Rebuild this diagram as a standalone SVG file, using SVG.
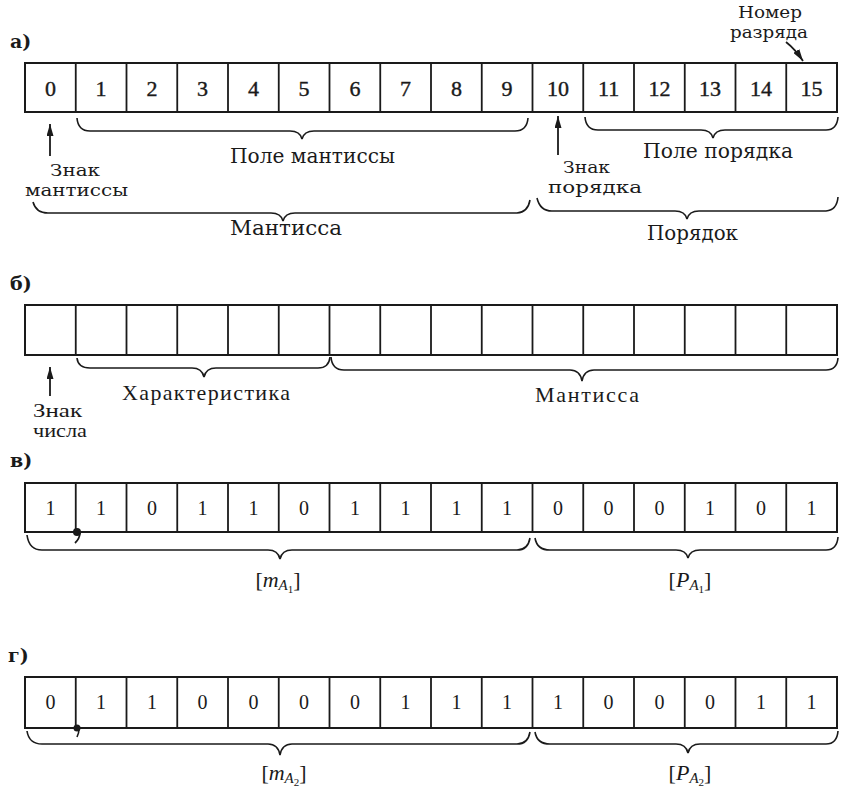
<svg xmlns="http://www.w3.org/2000/svg" width="841" height="791" viewBox="0 0 841 791">
<defs>
<style>
.cell{fill:none;stroke:#1a1a1a;stroke-width:2}
.div{stroke:#1a1a1a;stroke-width:1.8}
.br{fill:none;stroke:#1a1a1a;stroke-width:1.6;stroke-linejoin:miter}
.ar{fill:none;stroke:#1a1a1a;stroke-width:1.8}
.lb{font-family:"DejaVu Serif","Liberation Serif",serif;fill:#1a1a1a}
.lt{font-family:"Liberation Serif","DejaVu Serif",serif;fill:#1a1a1a}
.dg{font-family:"Liberation Serif","DejaVu Serif",serif;fill:#1a1a1a;text-anchor:middle}
.hd{font-family:"DejaVu Serif","Liberation Serif",serif;font-weight:bold;font-size:19px;fill:#1a1a1a}
</style>
<marker id="ah" viewBox="0 0 12 7" refX="12" refY="3.5" markerWidth="12" markerHeight="7" markerUnits="userSpaceOnUse" orient="auto">
<path d="M0,0 L12,3.5 L0,7 z" fill="#1a1a1a"/>
</marker>
</defs>

<rect width="841" height="791" fill="#ffffff"/>

<!-- Row labels -->
<g id="labels">
<text class="hd" x="10" y="48">а)</text>
<text class="hd" x="10" y="290">б)</text>
<text class="hd" x="10" y="467">в)</text>
<text class="hd" x="8" y="662">г)</text>
</g>

<!-- Register a -->
<g id="register-a">
<rect class="cell" x="25" y="63" width="812" height="49"/>
<path class="div" d="M75.75,63V112M126.5,63V112M177.25,63V112M228,63V112M278.75,63V112M329.5,63V112M380.25,63V112M431,63V112M481.75,63V112M532.5,63V112M583.25,63V112M634,63V112M684.75,63V112M735.5,63V112M786.25,63V112"/>
<g class="dg" font-size="22" stroke="#1a1a1a" stroke-width="0.4">
<text x="50.4" y="96">0</text><text x="101.1" y="96">1</text><text x="151.9" y="96">2</text><text x="202.6" y="96">3</text>
<text x="253.4" y="96">4</text><text x="304.1" y="96">5</text><text x="354.9" y="96">6</text><text x="405.6" y="96">7</text>
<text x="456.4" y="96">8</text><text x="507.1" y="96">9</text><text x="557.9" y="96">10</text><text x="608.6" y="96">11</text>
<text x="659.4" y="96">12</text><text x="710.1" y="96">13</text><text x="760.9" y="96">14</text><text x="811.6" y="96">15</text>
</g>
</g>

<g id="labels-a" class="lb">
<text x="738" y="18" font-size="16" textLength="64" lengthAdjust="spacingAndGlyphs">Номер</text>
<text x="730" y="38" font-size="16" textLength="78" lengthAdjust="spacingAndGlyphs">разряда</text>
<text x="230" y="163" font-size="20" textLength="165" lengthAdjust="spacingAndGlyphs">Поле мантиссы</text>
<text x="643" y="158" font-size="20" textLength="150" lengthAdjust="spacingAndGlyphs">Поле порядка</text>
<text x="50" y="176" font-size="16" textLength="50" lengthAdjust="spacingAndGlyphs">Знак</text>
<text x="25" y="196" font-size="16" textLength="103" lengthAdjust="spacingAndGlyphs">мантиссы</text>
<text x="563" y="173" font-size="16" textLength="47" lengthAdjust="spacingAndGlyphs">Знак</text>
<text x="548" y="193" font-size="16" textLength="94" lengthAdjust="spacingAndGlyphs">порядка</text>
<text x="230" y="235" font-size="20" textLength="112" lengthAdjust="spacingAndGlyphs">Мантисса</text>
<text x="647" y="240" font-size="20" textLength="91" lengthAdjust="spacingAndGlyphs">Порядок</text>
</g>

<!-- Register b -->
<g id="register-b">
<rect class="cell" x="25" y="305" width="812" height="50"/>
<path class="div" d="M75.75,305V355M126.5,305V355M177.25,305V355M228,305V355M278.75,305V355M329.5,305V355M380.25,305V355M431,305V355M481.75,305V355M532.5,305V355M583.25,305V355M634,305V355M684.75,305V355M735.5,305V355M786.25,305V355"/>
</g>
<g id="labels-b" class="lt">
<text x="122" y="400" font-size="22" textLength="168" lengthAdjust="spacing">Характеристика</text>
<text x="535" y="402" font-size="22" textLength="104" lengthAdjust="spacing">Мантисса</text>
<text x="33" y="417" font-size="19" textLength="49" lengthAdjust="spacingAndGlyphs">Знак</text>
<text x="33" y="437" font-size="19" textLength="54" lengthAdjust="spacingAndGlyphs">числа</text>
</g>

<!-- Register v -->
<g id="register-v">
<rect class="cell" x="25" y="483" width="812" height="49"/>
<path class="div" d="M75.75,483V532M126.5,483V532M177.25,483V532M228,483V532M278.75,483V532M329.5,483V532M380.25,483V532M431,483V532M481.75,483V532M532.5,483V532M583.25,483V532M634,483V532M684.75,483V532M735.5,483V532M786.25,483V532"/>
<g class="dg" font-size="20">
<text x="50.4" y="515">1</text><text x="101.1" y="515">1</text><text x="151.9" y="515">0</text><text x="202.6" y="515">1</text>
<text x="253.4" y="515">1</text><text x="304.1" y="515">0</text><text x="354.9" y="515">1</text><text x="405.6" y="515">1</text>
<text x="456.4" y="515">1</text><text x="507.1" y="515">1</text><text x="557.9" y="515">0</text><text x="608.6" y="515">0</text>
<text x="659.4" y="515">0</text><text x="710.1" y="515">1</text><text x="760.9" y="515">0</text><text x="811.6" y="515">1</text>
</g>
<circle cx="77" cy="532" r="4" fill="#1a1a1a"/>
<path d="M80,533 Q79.5,539 75,543" fill="none" stroke="#1a1a1a" stroke-width="1.8"/>
</g>
<g id="labels-v" class="lt" font-size="22" text-anchor="middle">
<text x="278" y="587">[<tspan font-style="italic">m</tspan><tspan font-style="italic" font-size="15" dy="3">A</tspan><tspan font-size="11" dy="3">1</tspan><tspan dy="-6">]</tspan></text>
<text x="690" y="587">[<tspan font-style="italic">P</tspan><tspan font-style="italic" font-size="15" dy="3">A</tspan><tspan font-size="11" dy="3">1</tspan><tspan dy="-6">]</tspan></text>
</g>

<!-- Register g -->
<g id="register-g">
<rect class="cell" x="25" y="677" width="812" height="51"/>
<path class="div" d="M75.75,677V728M126.5,677V728M177.25,677V728M228,677V728M278.75,677V728M329.5,677V728M380.25,677V728M431,677V728M481.75,677V728M532.5,677V728M583.25,677V728M634,677V728M684.75,677V728M735.5,677V728M786.25,677V728"/>
<g class="dg" font-size="20">
<text x="50.4" y="709">0</text><text x="101.1" y="709">1</text><text x="151.9" y="709">1</text><text x="202.6" y="709">0</text>
<text x="253.4" y="709">0</text><text x="304.1" y="709">0</text><text x="354.9" y="709">0</text><text x="405.6" y="709">1</text>
<text x="456.4" y="709">1</text><text x="507.1" y="709">1</text><text x="557.9" y="709">1</text><text x="608.6" y="709">0</text>
<text x="659.4" y="709">0</text><text x="710.1" y="709">0</text><text x="760.9" y="709">1</text><text x="811.6" y="709">1</text>
</g>
<circle cx="77" cy="728" r="3.5" fill="#1a1a1a"/>
<path d="M79,729 Q79,733 77,737" fill="none" stroke="#1a1a1a" stroke-width="1.6"/>
</g>
<g id="labels-g" class="lt" font-size="22" text-anchor="middle">
<text x="284" y="780">[<tspan font-style="italic">m</tspan><tspan font-style="italic" font-size="15" dy="3">A</tspan><tspan font-size="11" dy="3">2</tspan><tspan dy="-6">]</tspan></text>
<text x="690" y="780">[<tspan font-style="italic">P</tspan><tspan font-style="italic" font-size="15" dy="3">A</tspan><tspan font-size="11" dy="3">2</tspan><tspan dy="-6">]</tspan></text>
</g>

<!-- Connectors: braces and arrows -->
<g id="connectors">
<path class="br" d="M77,118 Q78,131 90,131 L290,131 Q300,131 302,139 Q304,131 314,131 L515,131 Q527,131 528,118"/>
<path class="br" d="M585,117 Q586,130 598,130 L701,130 Q711,130 713,138 Q715,130 725,130 L826,130 Q837,130 838,117"/>
<path class="br" d="M33,202 Q36,213 48,213 L271,213 Q281,213 283,221 Q285,213 295,213 L517,213 Q528,212 530,200"/>
<path class="br" d="M537,198 Q540,211 552,211 L675,211 Q685,211 687,219 Q689,211 699,211 L826,211 Q837,210 838,197"/>
<path class="ar" d="M50,156 V124" marker-end="url(#ah)"/>
<path class="ar" d="M558,155 V116" marker-end="url(#ah)"/>
<path class="ar" d="M786,42 Q795,49 803,61" marker-end="url(#ah)"/>
<path class="br" d="M77,358 Q78,368 90,368 L192,368 Q202,368 204,377 Q206,368 216,368 L318,368 Q329,368 330,357"/>
<path class="br" d="M331,357 Q332,370 344,370 L570,370 Q580,370 582,381 Q584,370 594,370 L826,370 Q837,370 838,358"/>
<path class="ar" d="M50,396 V367" marker-end="url(#ah)"/>
<path class="br" d="M27,535 Q29,550 42,550 L268,550 Q278,550 280,559 Q282,550 292,550 L517,550 Q528,550 530,538"/>
<path class="br" d="M535,538 Q537,550 550,550 L676,550 Q686,550 688,558 Q690,550 700,550 L826,550 Q837,550 838,537"/>
<path class="br" d="M27,731 Q29,744 42,744 L268,744 Q278,744 280,755 Q282,744 292,744 L517,744 Q528,744 530,732"/>
<path class="br" d="M535,732 Q537,744 550,744 L676,744 Q686,744 688,753 Q690,744 700,744 L826,744 Q837,744 838,731"/>
</g>
</svg>
